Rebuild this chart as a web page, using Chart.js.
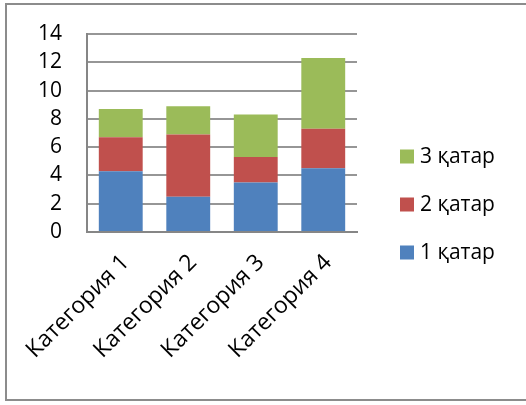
<!DOCTYPE html>
<html>
<head>
<meta charset="utf-8">
<script src="https://cdn.jsdelivr.net/npm/chart.js@4.4.1/dist/chart.umd.min.js"></script>
<style>
  html, body { margin: 0; padding: 0; background: #fff; }
  body { width: 526px; height: 405px; position: relative; overflow: hidden; }
  #frame { position: absolute; left: 5px; top: 3px; width: 560px; height: 398px; border: 2px solid #8c8c8c; box-sizing: border-box; }
  #wrap { position: absolute; left: 0; top: 0; width: 526px; height: 405px; }
</style>
</head>
<body>
<div id="frame"></div>
<div id="wrap"><canvas id="chart" width="526" height="405"></canvas></div>
<script>
const categories = ['Категория 1', 'Категория 2', 'Категория 3', 'Категория 4'];
const seriesNames = ['1 қатар', '2 қатар', '3 қатар'];
const series1 = [4.3, 2.5, 3.5, 4.5];
const series2 = [2.4, 4.4, 1.8, 2.8];
const series3 = [2, 2, 3, 5];
const colors = ['#4f81bd', '#c0504d', '#9bbb59'];

const FONT = '"Open Sans", "DejaVu Sans", sans-serif';

// Legend on the right, drawn top-down in reverse series order
const sideLegend = {
  id: 'sideLegend',
  afterDraw(chart) {
    const ctx = chart.ctx;
    const ds = chart.data.datasets;
    const x = chart.chartArea.right + 43;
    const midY = chart.height / 2 + 2;
    const gap = 48;
    ctx.save();
    ctx.font = '21px ' + FONT;
    ctx.textBaseline = 'middle';
    ctx.textAlign = 'left';
    for (let i = ds.length - 1, row = 0; i >= 0; i--, row++) {
      const cy = midY + (row - (ds.length - 1) / 2) * gap;
      ctx.fillStyle = ds[i].backgroundColor;
      ctx.fillRect(x, cy - 7, 14, 14);
      ctx.fillStyle = '#000';
      ctx.fillText(ds[i].label, x + 20, cy + 1);
    }
    ctx.restore();
  }
};

new Chart(document.getElementById('chart'), {
  type: 'bar',
  data: {
    labels: categories,
    datasets: [series1, series2, series3].map((vals, i) => ({
      label: seriesNames[i],
      data: vals,
      backgroundColor: colors[i],
      borderWidth: 0,
      barPercentage: 0.65,
      categoryPercentage: 1.0
    }))
  },
  options: {
    responsive: false,
    animation: false,
    layout: { padding: { top: 34, right: 169, left: 0, bottom: 0 } },
    plugins: { legend: { display: false }, tooltip: { enabled: false } },
    scales: {
      x: {
        stacked: true,
        grid: { display: false, drawTicks: false },
        border: { color: '#868686', width: 2 },
        ticks: { color: '#000', font: { family: FONT, size: 23 }, maxRotation: 45, minRotation: 45, padding: 17, labelOffset: 5, autoSkip: false },
        afterFit(scale) { scale.height = 173; scale.paddingLeft = 0; scale.paddingRight = 0; }
      },
      y: {
        stacked: true,
        min: 0, max: 14,
        grid: { color: '#969696', lineWidth: 2, drawTicks: false },
        border: { color: '#868686', width: 2 },
        ticks: { stepSize: 2, color: '#000', font: { family: FONT, size: 21 }, padding: 25, autoSkip: false },
        afterFit(scale) { scale.width = 87; scale.paddingTop = 0; scale.paddingBottom = 0; }
      }
    }
  },
  plugins: [sideLegend]
});
</script>
</body>
</html>
